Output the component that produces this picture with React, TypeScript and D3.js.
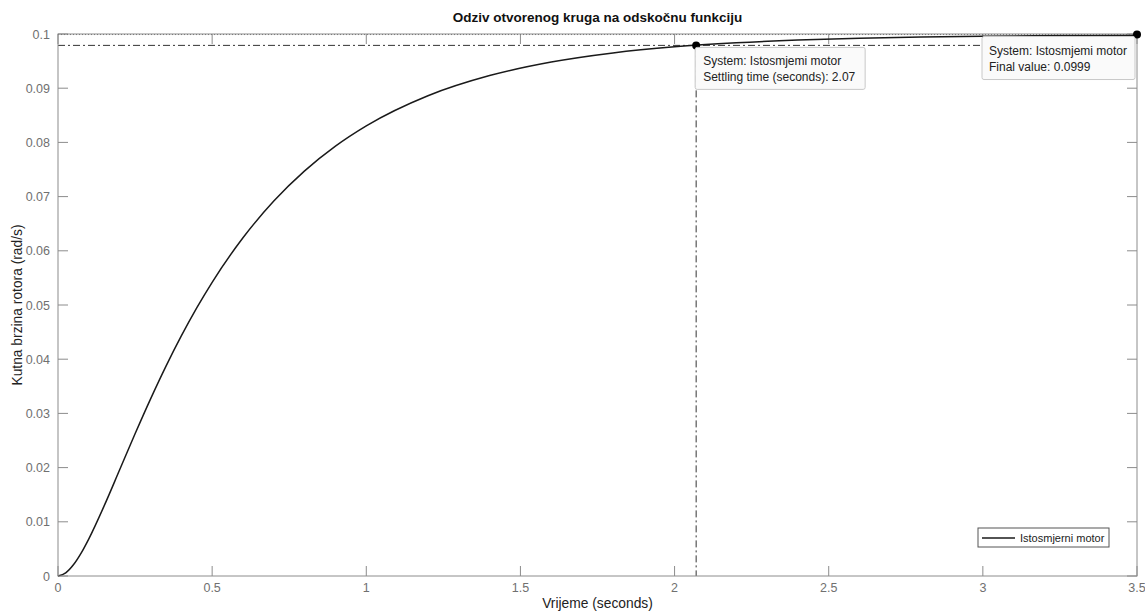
import * as d3 from 'd3';

// step response
const timeS = [
  0, 0.025, 0.05, 0.075, 0.1, 0.15, 0.2, 0.25, 0.3, 0.35, 0.4, 0.45, 0.5, 0.6, 0.7, 0.8, 0.9, 1.0,
  1.2, 1.4, 1.6, 1.8, 2.0, 2.2, 2.4, 2.6, 2.8, 3.0, 3.25, 3.5,
];
const speed = [
  0, 0.00057, 0.00206, 0.00422, 0.00686, 0.01298, 0.0196, 0.02624, 0.03264, 0.03868, 0.04429,
  0.04946, 0.05419, 0.0624, 0.06918, 0.07475, 0.07931, 0.08305, 0.08861, 0.09233, 0.09483,
  0.09651, 0.09763, 0.09837, 0.09888, 0.09922, 0.09944, 0.09959, 0.09971, 0.09979,
];

const xTicks = [0, 0.5, 1, 1.5, 2, 2.5, 3, 3.5];
const yTicks = [0, 0.01, 0.02, 0.03, 0.04, 0.05, 0.06, 0.07, 0.08, 0.09, 0.1];

const settlingTime = 2.07;
const settlingLevel = 0.0979;
const finalValue = 0.0999;
const seriesName = 'Istosmjerni motor';
const tipSystem = 'System: Istosmjemi motor';

const W = 1145;
const H = 611;
const m = { left: 58, right: 8, top: 34, bottom: 35 };
const FONT = '"Liberation Sans", Arial, Helvetica, sans-serif';
const AXIS = '#8c8c8c';
const LABEL = '#707070';
const TICK = 10;

export default function App() {
  const x = d3.scaleLinear().domain([0, 3.5]).range([m.left, W - m.right]);
  const y = d3.scaleLinear().domain([0, 0.1]).range([H - m.bottom, m.top]);
  const [x0, x1] = x.range();
  const [y0, y1] = y.range();

  const line = d3
    .line<number>()
    .x((_, i) => x(timeS[i]))
    .y((d) => y(d))
    .curve(d3.curveMonotoneX);

  const sx = x(settlingTime);
  const sy = y(settlingLevel);
  const fx = x(3.5);
  const fy = y(finalValue);
  const dashDot = '7 3 2 3';

  return (
    <svg
      width={W}
      height={H}
      style={{ position: 'absolute', left: 0, top: 0, background: '#fff' }}
      fontFamily={FONT}
    >
      {/* title */}
      <text x={(x0 + x1) / 2} y={22} textAnchor="middle" fontSize={13.5} fontWeight="bold" fill="#111">
        Odziv otvorenog kruga na odskočnu funkciju
      </text>

      {/* ticks on all four sides */}
      {xTicks.map((t) => (
        <g key={'x' + t}>
          <line x1={x(t)} x2={x(t)} y1={y0} y2={y0 - TICK} stroke={AXIS} />
          <line x1={x(t)} x2={x(t)} y1={y1} y2={y1 + TICK} stroke={AXIS} />
          <text x={x(t)} y={y0 + 16} textAnchor="middle" fontSize={12.5} fill={LABEL}>
            {t}
          </text>
        </g>
      ))}
      {yTicks.map((t) => (
        <g key={'y' + t}>
          <line x1={x0} x2={x0 + TICK} y1={y(t)} y2={y(t)} stroke={AXIS} />
          <line x1={x1} x2={x1 - TICK} y1={y(t)} y2={y(t)} stroke={AXIS} />
          <text x={x0 - 8} y={y(t) + 4.5} textAnchor="end" fontSize={12.5} fill={LABEL}>
            {t}
          </text>
        </g>
      ))}

      {/* axis labels */}
      <text x={(x0 + x1) / 2} y={H - 3} textAnchor="middle" fontSize={13.8} fill="#222">
        Vrijeme (seconds)
      </text>
      <text
        transform={`translate(17,${(y0 + y1) / 2}) rotate(-90)`}
        textAnchor="middle"
        dominantBaseline="central"
        fontSize={13.8}
        fill="#222"
      >
        Kutna brzina rotora (rad/s)
      </text>

      {/* settling-time and final-value guides */}
      <line x1={x0} x2={x1} y1={sy} y2={sy} stroke="#333" strokeDasharray={dashDot} />
      <line x1={sx} x2={sx} y1={sy} y2={y0} stroke="#333" strokeDasharray={dashDot} />
      <line x1={x0} x2={x1} y1={fy} y2={fy} stroke="#666" strokeDasharray="1 2" />

      {/* response curve */}
      <path d={line(speed) ?? ''} fill="none" stroke="#1a1a1a" strokeWidth={1.5} />

      {/* axes box */}
      <rect x={x0} y={y1} width={x1 - x0} height={y0 - y1} fill="none" stroke={AXIS} />

      {/* data tips */}
      <circle cx={sx} cy={sy} r={4} fill="#000" />
      <circle cx={fx} cy={fy} r={4} fill="#000" />

      <g transform={`translate(${sx - 1},${sy + 2})`}>
        <rect width={170} height={42} rx={2} fill="#fafafa" stroke="#c8c8c8" />
        <text x={8} y={18} fontSize={12} fill="#222">
          {tipSystem}
        </text>
        <text x={8} y={34} fontSize={12} fill="#222">
          Settling time (seconds): {settlingTime}
        </text>
      </g>
      <g transform={`translate(${fx - 155},${fy + 2})`}>
        <rect width={153} height={43} rx={2} fill="#fafafa" stroke="#c8c8c8" />
        <text x={7} y={18} fontSize={12} fill="#222">
          {tipSystem}
        </text>
        <text x={7} y={34} fontSize={12} fill="#222">
          Final value: {finalValue}
        </text>
      </g>

      {/* legend */}
      <g transform="translate(978,528)">
        <rect width={131} height={19} fill="#fff" stroke="#555" />
        <line x1={4} x2={37} y1={10} y2={10} stroke="#1a1a1a" strokeWidth={1.5} />
        <text x={42} y={14} fontSize={11} fill="#222">
          {seriesName}
        </text>
      </g>
    </svg>
  );
}
